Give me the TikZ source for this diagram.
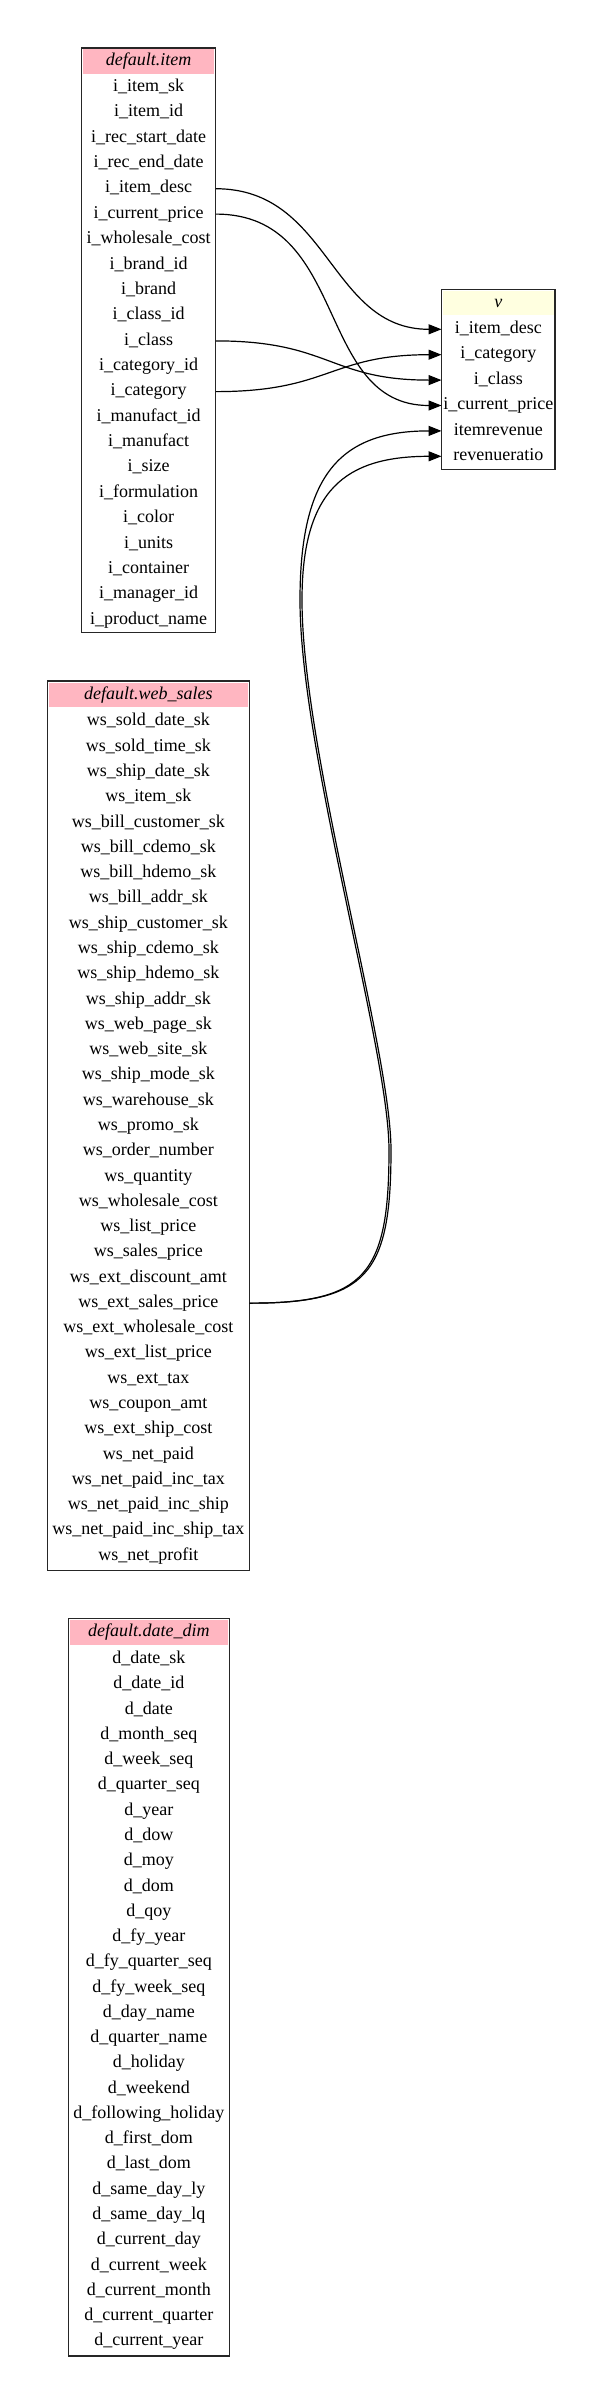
\documentclass[tikz,border=0pt]{standalone}
\usepackage{fontspec}
\setmainfont{Liberation Serif}
\usetikzlibrary{arrows.meta}
\definecolor{hdrpink}{RGB}{255,182,193}
\definecolor{hdryel}{RGB}{255,255,224}
\begin{document}
\begin{tikzpicture}[x=1pt,y=-1pt,
  tblbox/.style={draw=black!85, line width=1.3pt, fill=white, inner sep=0pt, rectangle},
  hdr/.style={inner sep=0pt, font=\fontsize{18}{20}\selectfont\itshape, text height=12.5pt, text depth=4pt},
  fld/.style={inner sep=0pt, font=\fontsize{18}{20}\selectfont, text height=12.5pt, text depth=4pt, minimum height=24pt},
  edge/.style={draw=black, line width=1.2pt, -{Triangle[length=13pt,width=10pt]}}]
\fill[white] (0,0) rectangle (608,2404);
\useasboundingbox (0,0) rectangle (608,2404);

% ---- default.item ----
\node[tblbox, minimum width=134pt, minimum height=584.3pt] (item) at (148.7,340.15) {};
\node[hdr, fill=hdrpink, minimum width=131pt, minimum height=24.5pt] (itemh) at (148.7,61.3) {default.item};
\foreach \t [count=\i from 0] in {i\_item\_sk,i\_item\_id,i\_rec\_start\_date,i\_rec\_end\_date,i\_item\_desc,i\_current\_price,i\_wholesale\_cost,i\_brand\_id,i\_brand,i\_class\_id,i\_class,i\_category\_id,i\_category,i\_manufact\_id,i\_manufact,i\_size,i\_formulation,i\_color,i\_units,i\_container,i\_manager\_id,i\_product\_name}
  \node[fld, minimum width=134pt] (item\i) at (148.7,{87.3+\i*25.36}) {\t};

% ---- v ----
\node[tblbox, minimum width=113.3pt, minimum height=180pt] (v) at (498.35,379.3) {};
\node[hdr, fill=hdryel, minimum width=110.3pt, minimum height=24.5pt] (vh) at (498.35,303.2) {v};
\foreach \t [count=\i from 0] in {i\_item\_desc,i\_category,i\_class,i\_current\_price,itemrevenue,revenueratio}
  \node[fld, minimum width=113.3pt] (v\i) at (498.35,{329.3+\i*25.4}) {\t};

% ---- default.web_sales ----
\node[tblbox, minimum width=202pt, minimum height=889.7pt] (ws) at (148.3,1125.85) {};
\node[hdr, fill=hdrpink, minimum width=199pt, minimum height=24.5pt] (wsh) at (148.3,695) {default.web\_sales};
\foreach \t [count=\i from 0] in {ws\_sold\_date\_sk,ws\_sold\_time\_sk,ws\_ship\_date\_sk,ws\_item\_sk,ws\_bill\_customer\_sk,ws\_bill\_cdemo\_sk,ws\_bill\_hdemo\_sk,ws\_bill\_addr\_sk,ws\_ship\_customer\_sk,ws\_ship\_cdemo\_sk,ws\_ship\_hdemo\_sk,ws\_ship\_addr\_sk,ws\_web\_page\_sk,ws\_web\_site\_sk,ws\_ship\_mode\_sk,ws\_warehouse\_sk,ws\_promo\_sk,ws\_order\_number,ws\_quantity,ws\_wholesale\_cost,ws\_list\_price,ws\_sales\_price,ws\_ext\_discount\_amt,ws\_ext\_sales\_price,ws\_ext\_wholesale\_cost,ws\_ext\_list\_price,ws\_ext\_tax,ws\_coupon\_amt,ws\_ext\_ship\_cost,ws\_net\_paid,ws\_net\_paid\_inc\_tax,ws\_net\_paid\_inc\_ship,ws\_net\_paid\_inc\_ship\_tax,ws\_net\_profit}
  \node[fld, minimum width=202pt] (ws\i) at (148.3,{721.7+\i*25.28}) {\t};

% ---- default.date_dim ----
\node[tblbox, minimum width=161pt, minimum height=737.7pt] (dd) at (148.8,1987.15) {};
\node[hdr, fill=hdrpink, minimum width=158pt, minimum height=24.5pt] (ddh) at (148.8,1632.3) {default.date\_dim};
\foreach \t [count=\i from 0] in {d\_date\_sk,d\_date\_id,d\_date,d\_month\_seq,d\_week\_seq,d\_quarter\_seq,d\_year,d\_dow,d\_moy,d\_dom,d\_qoy,d\_fy\_year,d\_fy\_quarter\_seq,d\_fy\_week\_seq,d\_day\_name,d\_quarter\_name,d\_holiday,d\_weekend,d\_following\_holiday,d\_first\_dom,d\_last\_dom,d\_same\_day\_ly,d\_same\_day\_lq,d\_current\_day,d\_current\_week,d\_current\_month,d\_current\_quarter,d\_current\_year}
  \node[fld, minimum width=161pt] (dd\i) at (148.8,{1659.3+\i*25.27}) {\t};

% ---- edges ----
\draw[edge] (item4.east) .. controls +(114,0) and +(-112,0) .. (v0.west);
\draw[edge] (item5.east) .. controls +(134,0) and +(-127,0) .. (v3.west);
\draw[edge] (item10.east) .. controls +(114,0) and +(-112,0) .. (v2.west);
\draw[edge] (item12.east) .. controls +(114,0) and +(-112,0) .. (v1.west);
\draw[edge] (ws23.east) .. controls (365,1303.3) and (389,1275) .. (389,1150)
  .. controls (389,1050) and (300,750) .. (300,600)
  .. controls (300,475) and (340,430.9) .. (v4.west);
\draw[edge] (ws23.east) .. controls (367,1303.3) and (391,1275) .. (391,1150)
  .. controls (391,1050) and (302,750) .. (302,600)
  .. controls (302,490) and (345,456.3) .. (v5.west);
\end{tikzpicture}
\end{document}
